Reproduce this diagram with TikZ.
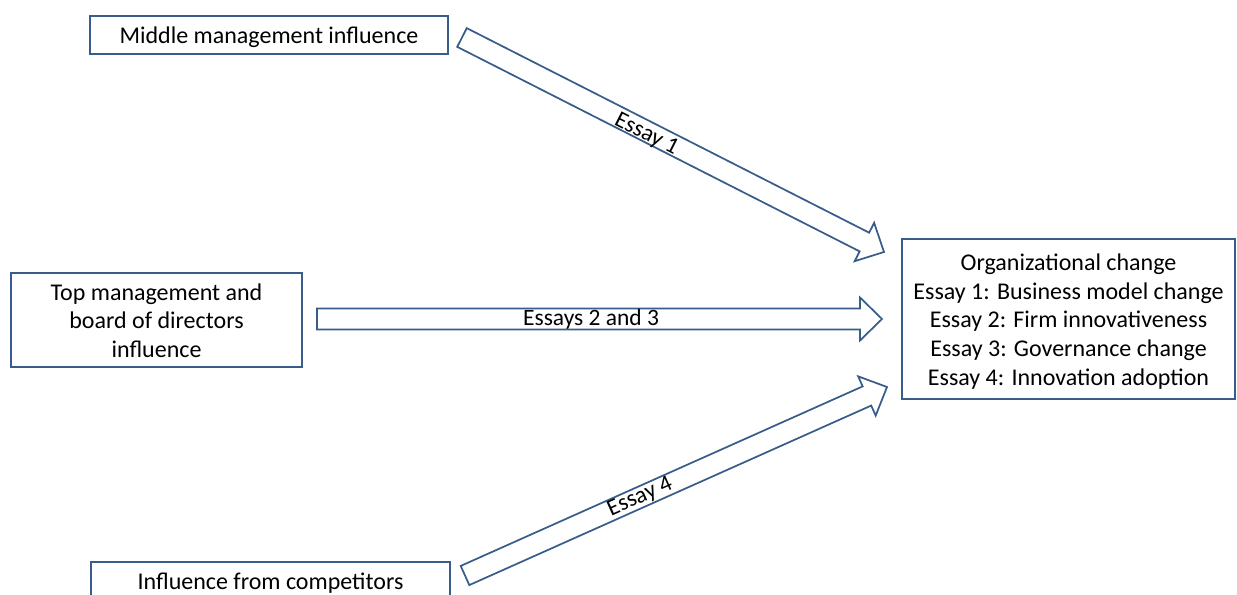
\documentclass[tikz,border=0pt]{standalone}
\usepackage{fontspec}
\setmainfont{Carlito}
\usetikzlibrary{calc}
\definecolor{edge}{RGB}{56,93,138}
% lowered centred block of lines (keeps the reported size, moves glyphs down)
\newcommand\lowtext[1]{\raisebox{-2.25pt}[\height][\depth]{\begin{tabular}{@{}c@{}}#1\end{tabular}}}
% #1 tail coordinate, #2 tip coordinate, #3 label, #4 label options
\newcommand\blockarr[4]{%
  \coordinate (#1b) at ($(#2)!16.5pt!(#1)$);
  \draw[barrow] ($(#1)!7.875pt!90:(#2)$) -- ($(#1b)!7.875pt!-90:(#1)$)
     -- ($(#1b)!16.125pt!-90:(#1)$) -- (#2) -- ($(#1b)!16.125pt!90:(#1)$)
     -- ($(#1b)!7.875pt!90:(#1)$) -- ($(#1)!7.875pt!-90:(#2)$) -- cycle;
  \path (#1) -- node[lbl, #4] {#3} (#2);
}
\begin{document}
\begin{tikzpicture}[x=0.75pt,y=-0.75pt,
  box/.style={draw=edge, line width=1.5pt, fill=white, inner sep=0pt,
    font=\fontsize{18}{21.5}\selectfont},
  barrow/.style={draw=edge, line width=1.3pt, fill=white, line join=miter},
  lbl/.style={font=\fontsize{17.6}{21.5}\selectfont, inner sep=0pt, sloped}]
\useasboundingbox (0,0) rectangle (1237,595);
\clip (0,0) rectangle (1237,595);

\node[box, minimum width=268.5pt, minimum height=28.5pt] (mid) at (269,35) {\lowtext{Middle management influence}};
\node[box, minimum width=218.25pt, minimum height=70.5pt] (top) at (156.5,320) {\lowtext{Top management and\\board of directors\\influence}};
\node[box, minimum width=269.25pt, minimum height=28.5pt] (comp) at (270.5,581) {\lowtext{Influence from competitors}};
\node[box, minimum width=249.75pt, minimum height=120pt] (org) at (1068.5,319) {\lowtext{Organizational change\\Essay 1: Business model change\\Essay 2: Firm innovativeness\\Essay 3: Governance change\\Essay 4: Innovation adoption}};

\coordinate (aonet) at ($(mid.east)+(13,2.5)$);
\coordinate (aoneh) at ($(org.west)+(-17,-67)$);
\coordinate (atwot) at ($(top.east)+(14,-1)$);
\coordinate (atwoh) at ($(org.west)+(-19,0)$);
\coordinate (athreet) at ($(comp.east)+(14,-5.5)$);
\coordinate (athreeh) at ($(org.west)+(-14,68)$);

\blockarr{aonet}{aoneh}{Essay 1}{pos=0.44, yshift=-2.25pt}
\blockarr{atwot}{atwoh}{Essays 2 and 3}{pos=0.485}
\blockarr{athreet}{athreeh}{Essay 4}{pos=0.415}
\end{tikzpicture}
\end{document}
